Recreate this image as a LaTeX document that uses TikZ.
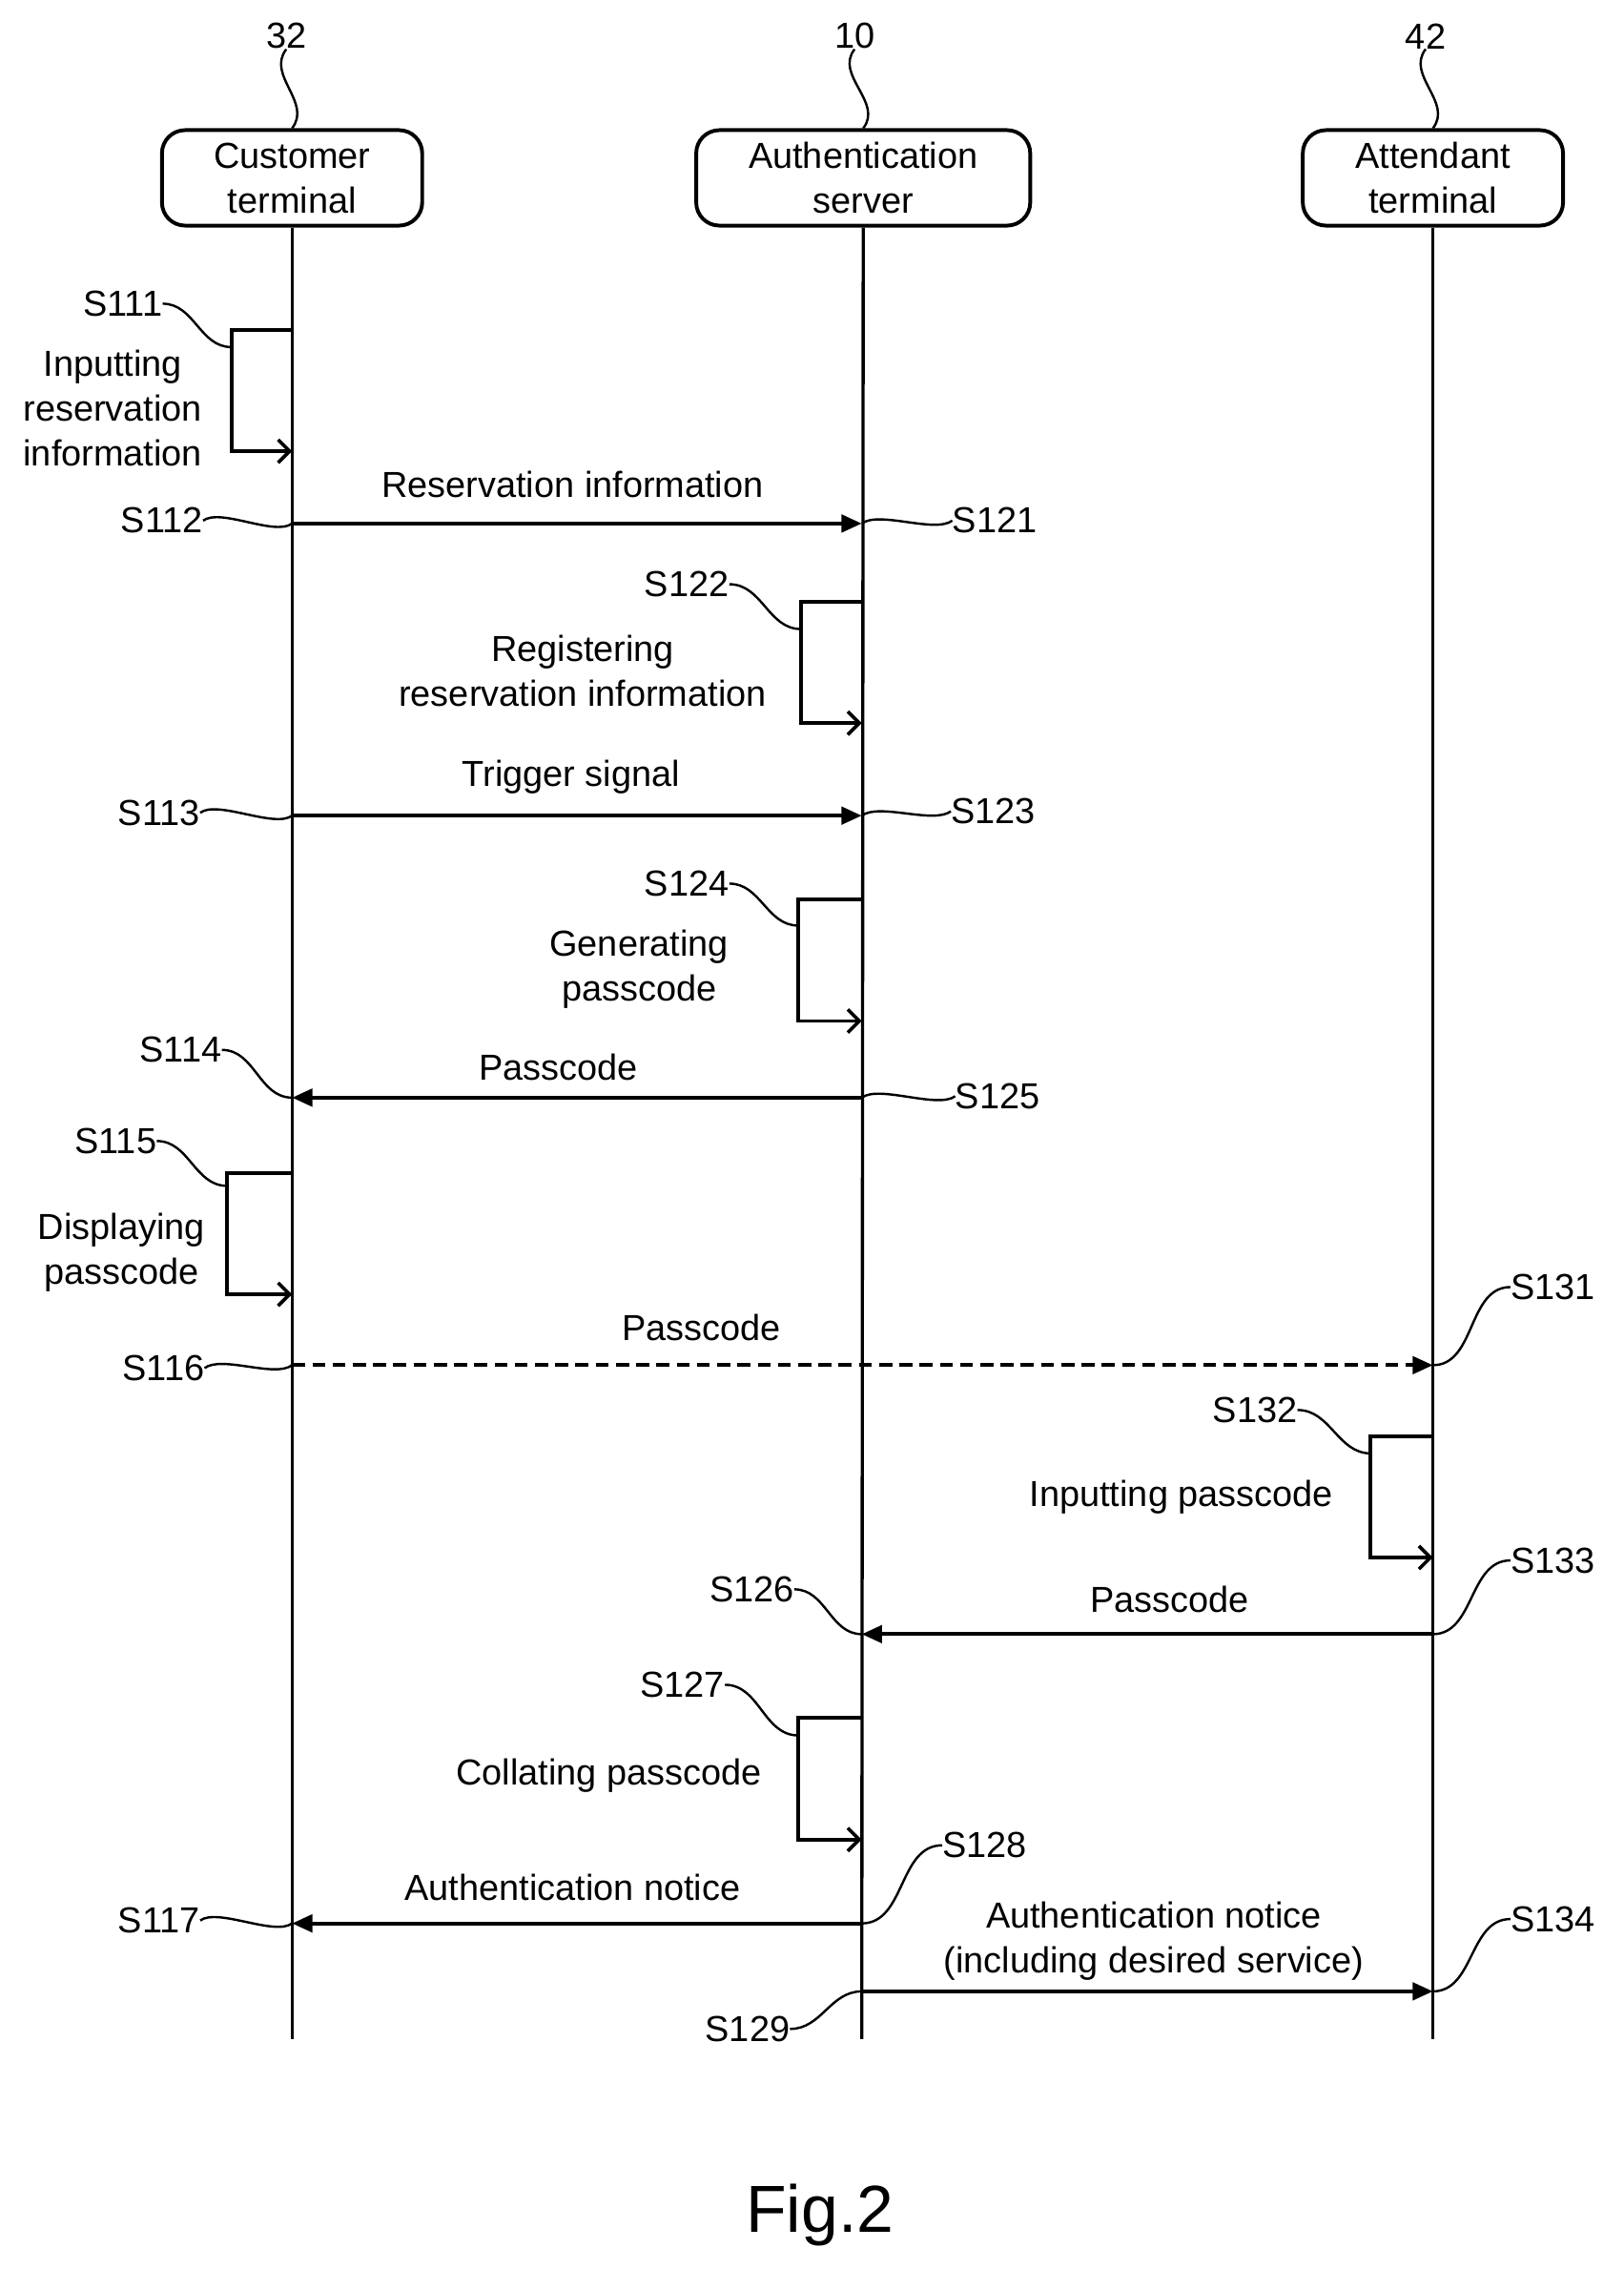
\documentclass[tikz,border=0pt]{standalone}
\usepackage{fontspec}
\setmainfont{Liberation Sans}
\usetikzlibrary{arrows.meta}
\begin{document}
\begin{tikzpicture}[x=1pt,y=-1pt,
  every node/.style={font=\fontsize{25}{31}\selectfont,inner sep=0pt,align=center},
  hdr/.style={draw,line width=2.6pt,rounded corners=16pt,minimum height=66pt,inner sep=2pt},
  life/.style={line width=2.2pt},
  msg/.style={line width=2.6pt,-{Triangle[length=14pt,width=12pt]}},
  act/.style={line width=2.6pt,-{Straight Barb[length=8pt,width=16pt,line width=2.4pt]}},
  sq/.style={line width=1.6pt}]
\useasboundingbox (0,0) rectangle (1123,1569);
% headers
\node[hdr,minimum width=180pt] (H1) at (202,123) {Customer\\terminal};
\node[hdr,minimum width=231pt] (H2) at (597,123) {Authentication\\server};
\node[hdr,minimum width=180pt] (H3) at (991,123) {Attendant\\terminal};
\node (N1) at (198,25) {32};
\node (N2) at (591,25) {10};
\node (N3) at (986,25) {42};
\foreach \n/\h in {N1/H1,N2/H2,N3/H3}
  \draw[sq] (\n.south) .. controls +(-14,18) and +(14,-18) .. (\h.north);
% lifelines
\coordinate (L1e) at (202,1410); \coordinate (L2e) at (596,1410); \coordinate (L3e) at (991,1410);
\draw[life] (H1.south) -- (L1e);
\draw[life] (H2.south) -- (L2e);
\draw[life] (H3.south) -- (L3e);
% S111
\coordinate (a1) at (202,228); \coordinate (b1) at (160,228); \coordinate (c1) at (160,312); \coordinate (d1) at (202,312);
\draw[act] (a1) -- (b1) -- (c1) -- (d1);
\node (S111) at (85,210) {S111};
\draw[sq] (S111.east) to[out=0,in=180] (160,240);
\node (T111) at (78,282) {Inputting\\reservation\\information};
% S112
\coordinate (m1a) at (202,362); \coordinate (m1b) at (596,362);
\draw[msg] (m1a) -- (m1b);
\node (M1) at (396,335) {Reservation information};
\node (S112) at (112,360) {S112};
\node (S121) at (688,360) {S121};
\draw[sq] (S112.east) .. controls +(12,-9) and +(-12,9) .. (m1a);
\draw[sq] (m1b) .. controls +(12,-9) and +(-12,9) .. (S121.west);
% S122
\coordinate (a2) at (596,416); \coordinate (b2) at (554,416); \coordinate (c2) at (554,500); \coordinate (d2) at (596,500);
\draw[act] (a2) -- (b2) -- (c2) -- (d2);
\node (S122) at (475,404) {S122};
\draw[sq] (S122.east) to[out=0,in=180] (554,435);
\node (T122) at (403,464) {Registering\\reservation information};
% S113
\coordinate (m2a) at (202,564); \coordinate (m2b) at (596,564);
\draw[msg] (m2a) -- (m2b);
\node (M2) at (395,537) {Trigger signal};
\node (S113) at (110,562) {S113};
\node (S123) at (687,561) {S123};
\draw[sq] (S113.east) .. controls +(12,-9) and +(-12,9) .. (m2a);
\draw[sq] (m2b) .. controls +(12,-9) and +(-12,9) .. (S123.west);
% S124
\coordinate (a3) at (596,622); \coordinate (b3) at (552,622); \coordinate (c3) at (552,706); \coordinate (d3) at (596,706);
\draw[act] (a3) -- (b3) -- (c3) -- (d3);
\node (S124) at (475,611) {S124};
\draw[sq] (S124.east) to[out=0,in=180] (552,640);
\node (T124) at (442,670) {Generating\\passcode};
% S114 / S125
\coordinate (m3a) at (596,759); \coordinate (m3b) at (202,759);
\draw[msg] (m3a) -- (m3b);
\node (M3) at (386,738) {Passcode};
\node (S114) at (125,726) {S114};
\node (S125) at (690,758) {S125};
\draw[sq] (S114.east) to[out=0,in=180] (m3b);
\draw[sq] (m3a) .. controls +(12,-9) and +(-12,9) .. (S125.west);
% S115
\coordinate (a4) at (202,811); \coordinate (b4) at (157,811); \coordinate (c4) at (157,895); \coordinate (d4) at (202,895);
\draw[act] (a4) -- (b4) -- (c4) -- (d4);
\node (S115) at (80,789) {S115};
\draw[sq] (S115.east) to[out=0,in=180] (157,820);
\node (T115) at (84,866) {Displaying\\passcode};
% S116 / S131
\coordinate (m4a) at (202,944); \coordinate (m4b) at (991,944);
\draw[msg,dash pattern=on 9pt off 5pt] (m4a) -- (m4b);
\node (M4) at (485,918) {Passcode};
\node (S116) at (113,946) {S116};
\node (S131) at (1074,890) {S131};
\draw[sq] (S116.east) .. controls +(12,-9) and +(-12,9) .. (m4a);
\draw[sq] (m4b) to[out=0,in=180] (S131.west);
% S132
\coordinate (a5) at (991,993); \coordinate (b5) at (948,993); \coordinate (c5) at (948,1077); \coordinate (d5) at (991,1077);
\draw[act] (a5) -- (b5) -- (c5) -- (d5);
\node (S132) at (868,975) {S132};
\draw[sq] (S132.east) to[out=0,in=180] (948,1005);
\node (T132) at (817,1035) {Inputting passcode};
% S133 / S126
\coordinate (m5a) at (991,1130); \coordinate (m5b) at (596,1130);
\draw[msg] (m5a) -- (m5b);
\node (M5) at (809,1106) {Passcode};
\node (S126) at (520,1099) {S126};
\node (S133) at (1074,1079) {S133};
\draw[sq] (S126.east) to[out=0,in=180] (m5b);
\draw[sq] (m5a) to[out=0,in=180] (S133.west);
% S127
\coordinate (a6) at (596,1188); \coordinate (b6) at (552,1188); \coordinate (c6) at (552,1272); \coordinate (d6) at (596,1272);
\draw[act] (a6) -- (b6) -- (c6) -- (d6);
\node (S127) at (472,1165) {S127};
\draw[sq] (S127.east) to[out=0,in=180] (552,1200);
\node (T127) at (421,1228) {Collating passcode};
% S128 / S117
\coordinate (m6a) at (596,1330); \coordinate (m6b) at (202,1330);
\draw[msg] (m6a) -- (m6b);
\node (M6) at (396,1305) {Authentication notice};
\node (S117) at (110,1328) {S117};
\node (S128) at (681,1276) {S128};
\draw[sq] (S117.east) .. controls +(12,-9) and +(-12,9) .. (m6b);
\draw[sq] (m6a) to[out=0,in=180] (S128.west);
% S129 / S134
\coordinate (m7a) at (596,1377); \coordinate (m7b) at (991,1377);
\draw[msg] (m7a) -- (m7b);
\node (M7) at (798,1342) {Authentication notice\\(including desired service)};
\node (S129) at (517,1403) {S129};
\node (S134) at (1074,1327) {S134};
\draw[sq] (S129.east) to[out=0,in=180] (m7a);
\draw[sq] (m7b) to[out=0,in=180] (S134.west);
% caption
\node[font=\fontsize{46}{50}\selectfont] (F) at (567,1532) {Fig.2};
\end{tikzpicture}
\end{document}
